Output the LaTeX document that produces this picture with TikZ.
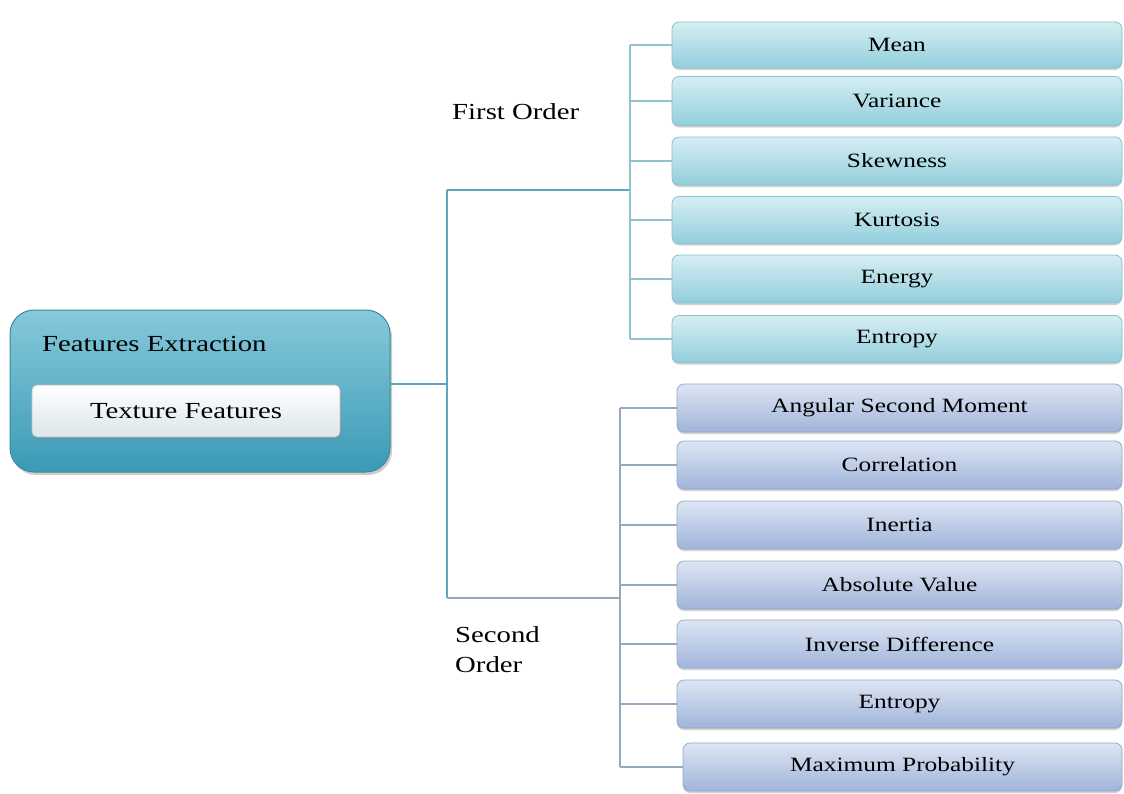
\documentclass[tikz,border=0pt]{standalone}
\usepackage{fontspec}
\setmainfont{Liberation Serif}[FakeStretch=1.25]
\usetikzlibrary{shadows}
\definecolor{teal1}{HTML}{86C9DB}
\definecolor{teal2}{HTML}{3B9AB5}
\definecolor{tealb}{HTML}{3A8BA1}
\definecolor{fotop}{HTML}{D6EEF3}
\definecolor{fobot}{HTML}{92CEDC}
\definecolor{fobd}{HTML}{86C2D0}
\definecolor{sotop}{HTML}{DCE5F3}
\definecolor{sobot}{HTML}{A0B4DA}
\definecolor{sobd}{HTML}{97A8C8}
\definecolor{mainline}{HTML}{5AA6BB}
\definecolor{foline}{HTML}{8FC3D0}
\definecolor{soline}{HTML}{98A9BE}
\definecolor{tfbot}{HTML}{DCE6EA}
\begin{document}
\begin{tikzpicture}[x=1pt,y=-1pt,
  leaf/.style={rounded corners=7pt, minimum height=46pt, inner sep=0pt,
    font=\fontsize{20.3}{24}\selectfont, text=black,
    drop shadow={shadow xshift=0pt,shadow yshift=-2pt,opacity=0.35}},
  fo/.style={leaf, draw=fobd, line width=0.8pt, top color=fotop, bottom color=fobot, minimum width=450pt},
  so/.style={leaf, draw=sobd, line width=0.8pt, top color=sotop, bottom color=sobot, minimum width=445pt},
  lbl/.style={font=\fontsize{23}{30}\selectfont, text=black, inner sep=0pt, align=left},
  mline/.style={draw=mainline, line width=2.8pt},
  fline/.style={draw=foline, line width=1.3pt},
  sline/.style={draw=soline, line width=1.8pt}]
\useasboundingbox (0,0) rectangle (1124,793);
\fill[white] (0,0) rectangle (1124,793);
% main box
\node[rounded corners=24pt, draw=tealb, line width=1pt, top color=teal1, bottom color=teal2,
  minimum width=380pt, minimum height=162pt, inner sep=0pt,
  drop shadow={shadow xshift=2pt,shadow yshift=-3pt,opacity=0.4}] (main) at (200,391) {};
\node[lbl, anchor=west] (fe) at (42,344) {Features Extraction};
\node[rounded corners=5pt, draw=black!25, line width=0.6pt, top color=white, bottom color=tfbot,
  minimum width=308pt, minimum height=52pt, inner sep=0pt, font=\fontsize{23}{27}\selectfont,
  drop shadow={shadow xshift=1pt,shadow yshift=-2pt,opacity=0.45}] (tf) at (186,411) {Texture Features};
% labels
\node[lbl, anchor=west] (fol) at (452,112) {First Order};
\node[lbl, anchor=north west] (sol) at (455,626) {Second\\Order};
% first order boxes
\node[fo] (mean) at (897,45) {Mean};
\node[fo, minimum height=49pt] (var) at (897,101) {Variance};
\node[fo, minimum height=48pt] (skew) at (897,161) {Skewness};
\node[fo, minimum height=47pt] (kurt) at (897,220) {Kurtosis};
\node[fo, minimum height=48pt] (ener) at (897,279) {Energy};
\node[fo, minimum height=47pt] (ent1) at (897,339) {Entropy};
% second order boxes
\node[so, minimum height=48pt] (asm) at (899.5,408) {Angular Second Moment};
\node[so, minimum height=48pt] (corr) at (899.5,465) {Correlation};
\node[so, minimum height=48pt] (iner) at (899.5,525) {Inertia};
\node[so, minimum height=48pt] (absv) at (899.5,585) {Absolute Value};
\node[so, minimum height=48pt] (invd) at (899.5,644) {Inverse Difference};
\node[so, minimum height=48pt] (ent2) at (899.5,704) {Entropy};
\node[so, minimum height=48pt, minimum width=439pt] (maxp) at (902.5,767) {Maximum Probability};
% connectors
\coordinate (j0) at (447,384);
\coordinate (j1) at (447,190);
\coordinate (j2) at (447,598);
\coordinate (fv) at (630,190);
\coordinate (sv) at (620,598);
\draw[mline] (main.east |- j0) -- (j0);
\draw[mline] (j1) -- (j2);
\draw[mline] (j1) -- (fv);
\draw[sline] (j2) -- (sv);
\draw[fline] (630,45) -- (630,339);
\foreach \n in {mean,var,skew,kurt,ener,ent1}{
  \draw[fline] (630,0 |- \n.west) -- (\n.west);
}
\draw[sline] (620,408) -- (620,767);
\foreach \n in {asm,corr,iner,absv,invd,ent2,maxp}{
  \draw[sline] (620,0 |- \n.west) -- (\n.west);
}
\end{tikzpicture}
\end{document}
